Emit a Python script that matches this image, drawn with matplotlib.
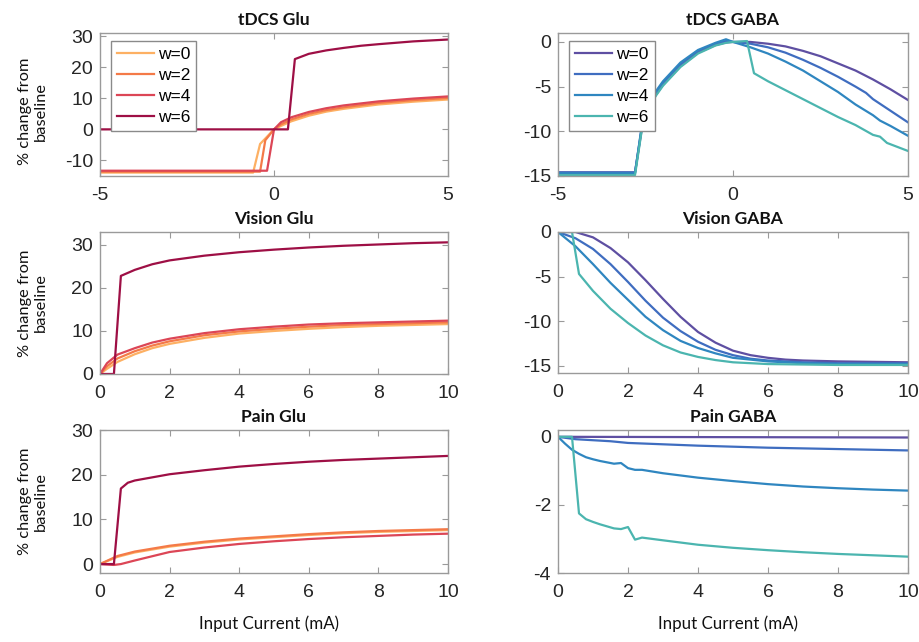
import matplotlib
matplotlib.use("Agg")
import matplotlib.pyplot as plt

# ---------------- data ----------------
labels = ["w=0", "w=2", "w=4", "w=6"]
glu_colors = ["#FDB063", "#F47A48", "#DC4656", "#9E0F45"]
gaba_colors = ["#5E4FA2", "#3F6DC0", "#2F86C0", "#4BB5AF"]

# tDCS Glu
tdcs_glu_x_w0 = [-5, -0.6, -0.4, 0, 0.2, 0.5, 1, 1.5, 2, 3, 4, 5]
tdcs_glu_y_w0 = [-13.9, -13.9, -4.7, 0, 1.1, 2.6, 4.4, 5.7, 6.6, 8.0, 8.9, 9.6]
tdcs_glu_x_w2 = [-5, -0.4, -0.25, 0, 0.2, 0.5, 1, 1.5, 2, 3, 4, 5]
tdcs_glu_y_w2 = [-13.6, -13.6, -3.5, 0, 1.6, 3.2, 5.0, 6.2, 7.1, 8.5, 9.4, 10.1]
tdcs_glu_x_w4 = [-5, -0.2, 0, 0.2, 0.5, 1, 1.5, 2, 3, 4, 5]
tdcs_glu_y_w4 = [-13.3, -13.3, 0, 2.3, 3.9, 5.6, 6.8, 7.7, 9.0, 9.9, 10.6]
tdcs_glu_x_w6 = [-5, 0.4, 0.6, 1, 1.5, 2, 2.5, 3, 4, 5]
tdcs_glu_y_w6 = [0, 0, 22.6, 24.3, 25.4, 26.2, 26.9, 27.4, 28.3, 28.9]

# tDCS GABA
tdcs_gaba_x_left = [-5, -2.8, -2.6, -2.4, -2.2, -2, -1.5, -1, -0.5, -0.2, 0]
tdcs_gaba_y_left_w0 = [-14.6, -14.6, -9.6, -7.2, -5.9, -4.8, -2.7, -1.2, -0.35, -0.05, 0]
tdcs_gaba_y_left_w2 = [-14.6, -14.6, -9.4, -7.0, -5.7, -4.6, -2.5, -1.0, -0.2, 0.1, 0]
tdcs_gaba_y_left_w4 = [-14.7, -14.7, -9.2, -6.8, -5.5, -4.4, -2.3, -0.9, -0.1, 0.3, 0]
tdcs_gaba_y_left_w6 = [-14.9, -14.9, -9.7, -7.3, -6.0, -4.9, -2.8, -1.3, -0.4, -0.1, 0]
tdcs_gaba_x_right_w0 = [0.5, 1, 1.5, 2, 2.5, 3, 3.5, 4, 4.5, 5]
tdcs_gaba_y_right_w0 = [0.0, -0.2, -0.5, -1.0, -1.6, -2.4, -3.2, -4.2, -5.3, -6.5]
tdcs_gaba_x_right_w2 = [0.5, 1, 1.5, 2, 2.5, 3, 3.5, 3.8, 4, 4.5, 5]
tdcs_gaba_y_right_w2 = [-0.2, -0.6, -1.2, -2.0, -2.9, -3.9, -5.0, -5.7, -6.4, -7.7, -9.0]
tdcs_gaba_x_right_w4 = [0.5, 1, 1.5, 2, 2.5, 3, 3.5, 4, 4.2, 4.5, 5]
tdcs_gaba_y_right_w4 = [-0.6, -1.3, -2.2, -3.2, -4.4, -5.6, -7.0, -8.2, -8.8, -9.4, -10.5]
tdcs_gaba_x_right_w6 = [0.4, 0.6, 1, 1.5, 2, 2.5, 3, 3.5, 4, 4.2, 4.4, 5]
tdcs_gaba_y_right_w6 = [0.1, -3.5, -4.4, -5.4, -6.4, -7.4, -8.4, -9.3, -10.4, -10.6, -11.3, -12.2]

# Vision Glu
vis_glu_x = [0, 0.2, 0.5, 1, 1.5, 2, 3, 4, 5, 6, 7, 8, 9, 10]
vis_glu_y_w0 = [0, 1.2, 2.8, 4.6, 6.0, 7.0, 8.4, 9.4, 10.0, 10.5, 10.9, 11.2, 11.4, 11.6]
vis_glu_y_w2 = [0, 1.8, 3.6, 5.3, 6.6, 7.6, 9.0, 9.9, 10.5, 11.0, 11.4, 11.6, 11.8, 12.0]
vis_glu_y_w4 = [0, 2.5, 4.5, 6.0, 7.3, 8.2, 9.5, 10.4, 11.0, 11.5, 11.8, 12.0, 12.2, 12.4]
vis_glu_x_w6 = [0, 0.4, 0.6, 1, 1.5, 2, 3, 4, 5, 6, 7, 8, 9, 10]
vis_glu_y_w6 = [0, 0, 22.8, 24.2, 25.5, 26.4, 27.5, 28.3, 28.9, 29.4, 29.8, 30.1, 30.4, 30.6]

# Vision GABA
vis_gaba_x = [0, 0.5, 1, 1.5, 2, 2.5, 3, 3.5, 4, 4.5, 5, 5.5, 6, 6.5, 7, 8, 10]
vis_gaba_y_w0 = [0, 0, -0.6, -1.8, -3.4, -5.4, -7.5, -9.5, -11.2, -12.4, -13.3, -13.8, -14.1, -14.3, -14.4, -14.5, -14.6]
vis_gaba_y_w2 = [0, -0.7, -1.9, -3.6, -5.6, -7.7, -9.6, -11.1, -12.3, -13.2, -13.8, -14.2, -14.4, -14.5, -14.6, -14.7, -14.7]
vis_gaba_y_w4 = [0, -1.6, -3.6, -5.7, -7.6, -9.5, -11.0, -12.2, -13.0, -13.6, -14.1, -14.3, -14.5, -14.6, -14.7, -14.8, -14.8]
vis_gaba_x_w6 = [0, 0.4, 0.6, 1, 1.5, 2, 2.5, 3, 3.5, 4, 4.5, 5, 6, 8, 10]
vis_gaba_y_w6 = [0, 0, -4.7, -6.6, -8.6, -10.2, -11.6, -12.7, -13.5, -14.0, -14.35, -14.6, -14.8, -14.9, -14.9]

# Pain Glu
pain_glu_x = [0, 0.5, 1, 2, 3, 4, 5, 6, 7, 8, 9, 10]
pain_glu_y_w0 = [0, 1.6, 2.6, 3.9, 4.8, 5.5, 6.0, 6.5, 6.9, 7.2, 7.4, 7.6]
pain_glu_y_w2 = [0, 1.8, 2.8, 4.1, 5.0, 5.7, 6.2, 6.7, 7.1, 7.4, 7.6, 7.8]
pain_glu_x_w4 = [0, 0.4, 0.6, 1, 2, 3, 4, 5, 6, 7, 8, 9, 10]
pain_glu_y_w4 = [0, -0.2, 0, 0.8, 2.7, 3.7, 4.5, 5.1, 5.6, 6.0, 6.3, 6.6, 6.8]
pain_glu_x_w6 = [0, 0.4, 0.6, 0.8, 1, 2, 3, 4, 5, 6, 7, 8, 9, 10]
pain_glu_y_w6 = [0, 0, 16.9, 18.2, 18.7, 20.1, 21.0, 21.8, 22.4, 22.9, 23.3, 23.6, 23.9, 24.2]

# Pain GABA
pain_gaba_x_w0 = [0, 10]
pain_gaba_y_w0 = [0, -0.02]
pain_gaba_x_w2 = [0, 0.5, 1, 1.5, 2, 3, 4, 5, 6, 7, 8, 9, 10]
pain_gaba_y_w2 = [0, -0.07, -0.1, -0.13, -0.18, -0.22, -0.26, -0.29, -0.32, -0.34, -0.36, -0.38, -0.4]
pain_gaba_x_w4 = [0, 0.2, 0.4, 0.6, 0.8, 1, 1.2, 1.4, 1.6, 1.8, 2.0, 2.2, 2.4, 3, 4, 5, 6, 7, 8, 9, 10]
pain_gaba_y_w4 = [0, -0.2, -0.38, -0.5, -0.6, -0.66, -0.71, -0.75, -0.79, -0.77, -0.92, -0.97, -0.97,
                  -1.07, -1.2, -1.3, -1.39, -1.46, -1.51, -1.55, -1.58]
pain_gaba_x_w6 = [0, 0.4, 0.6, 0.8, 1.0, 1.2, 1.4, 1.6, 1.8, 2.0, 2.2, 2.4, 3, 4, 5, 6, 7, 8, 9, 10]
pain_gaba_y_w6 = [0, 0, -2.25, -2.42, -2.5, -2.57, -2.63, -2.69, -2.71, -2.65, -3.02, -2.96,
                  -3.04, -3.17, -3.26, -3.33, -3.39, -3.44, -3.48, -3.52]

# ---------------- figure ----------------
W, H = 920, 642
fig = plt.figure(figsize=(W / 100, H / 100), dpi=100)

TICK_FONT = "Liberation Sans"
TEXT_FONT = "Lato"
TICK_SIZE = 14
LW = 1.6
SPINE_C = "#9a9a9a"


def make_ax(left, top, right, bottom):
    ax = fig.add_axes([left / W, 1 - bottom / H, (right - left) / W, (bottom - top) / H])
    for s in ax.spines.values():
        s.set_color(SPINE_C)
        s.set_linewidth(1.0)
    ax.tick_params(direction="in", length=4, width=0.8, color=SPINE_C,
                   top=True, right=True, labelsize=TICK_SIZE, labelcolor="#262626")
    ax.tick_params(axis="x", pad=8)
    ax.tick_params(axis="y", pad=5)
    return ax


def finish(ax, title, xticks, yticks, xlim, ylim):
    ax.set_xlim(*xlim)
    ax.set_ylim(*ylim)
    ax.set_xticks(xticks)
    ax.set_yticks(yticks)
    ax.set_xticklabels([f"{t:g}" for t in xticks], fontfamily=TICK_FONT, fontsize=TICK_SIZE, color="#262626")
    ax.set_yticklabels([f"{t:g}" for t in yticks], fontfamily=TICK_FONT, fontsize=TICK_SIZE, color="#262626")
    ax.set_title(title, fontfamily=TEXT_FONT, fontweight="bold", fontsize=12.5, pad=6, color="#111111")


def add_legend(ax, handles):
    leg = ax.legend(handles, labels, loc="upper left", bbox_to_anchor=(0.032, 0.944),
                    borderaxespad=0, frameon=True, fancybox=False, framealpha=1,
                    edgecolor="#8a8a8a", prop={"family": TICK_FONT, "size": 12.5},
                    handlelength=2.1, handletextpad=0.25, labelspacing=0.33, borderpad=0.35)
    leg.get_frame().set_linewidth(1.0)


def set_ylab(ax, ycenter_frac):
    ax.set_ylabel("% change from\nbaseline", fontfamily=TEXT_FONT, fontsize=11.8, color="#111111",
                  linespacing=1.15)
    ax.yaxis.set_label_coords(-0.15, ycenter_frac)


def set_xlab(ax):
    ax.set_xlabel("Input Current (mA)", fontfamily=TEXT_FONT, fontsize=12.2, color="#111111")
    ax.xaxis.set_label_coords(0.485, -0.30)


# tDCS Glu
ax1 = make_ax(100, 33, 448, 176)
h = []
h += ax1.plot(tdcs_glu_x_w0, tdcs_glu_y_w0, color=glu_colors[0], lw=LW)
h += ax1.plot(tdcs_glu_x_w2, tdcs_glu_y_w2, color=glu_colors[1], lw=LW)
h += ax1.plot(tdcs_glu_x_w4, tdcs_glu_y_w4, color=glu_colors[2], lw=LW)
h += ax1.plot(tdcs_glu_x_w6, tdcs_glu_y_w6, color=glu_colors[3], lw=LW)
finish(ax1, "tDCS Glu", [-5, 0, 5], [-10, 0, 10, 20, 30], (-5, 5), (-15, 31))
add_legend(ax1, h)
set_ylab(ax1, 0.45)

# tDCS GABA
ax2 = make_ax(558, 33, 908, 176)
h = []
for xl, yl, xr, yr, c in [
    (tdcs_gaba_x_left, tdcs_gaba_y_left_w0, tdcs_gaba_x_right_w0, tdcs_gaba_y_right_w0, gaba_colors[0]),
    (tdcs_gaba_x_left, tdcs_gaba_y_left_w2, tdcs_gaba_x_right_w2, tdcs_gaba_y_right_w2, gaba_colors[1]),
    (tdcs_gaba_x_left, tdcs_gaba_y_left_w4, tdcs_gaba_x_right_w4, tdcs_gaba_y_right_w4, gaba_colors[2]),
    (tdcs_gaba_x_left, tdcs_gaba_y_left_w6, tdcs_gaba_x_right_w6, tdcs_gaba_y_right_w6, gaba_colors[3]),
]:
    h += ax2.plot(list(xl) + list(xr), list(yl) + list(yr), color=c, lw=LW)
finish(ax2, "tDCS GABA", [-5, 0, 5], [-15, -10, -5, 0], (-5, 5), (-15, 1))
add_legend(ax2, h)

# Vision Glu
ax3 = make_ax(100, 232, 448, 374)
ax3.plot(vis_glu_x, vis_glu_y_w0, color=glu_colors[0], lw=LW)
ax3.plot(vis_glu_x, vis_glu_y_w2, color=glu_colors[1], lw=LW)
ax3.plot(vis_glu_x, vis_glu_y_w4, color=glu_colors[2], lw=LW)
ax3.plot(vis_glu_x_w6, vis_glu_y_w6, color=glu_colors[3], lw=LW)
finish(ax3, "Vision Glu", [0, 2, 4, 6, 8, 10], [0, 10, 20, 30], (0, 10), (0, 33))
set_ylab(ax3, 0.5)

# Vision GABA
ax4 = make_ax(558, 232, 908, 373)
ax4.plot(vis_gaba_x, vis_gaba_y_w0, color=gaba_colors[0], lw=LW)
ax4.plot(vis_gaba_x, vis_gaba_y_w2, color=gaba_colors[1], lw=LW)
ax4.plot(vis_gaba_x, vis_gaba_y_w4, color=gaba_colors[2], lw=LW)
ax4.plot(vis_gaba_x_w6, vis_gaba_y_w6, color=gaba_colors[3], lw=LW)
finish(ax4, "Vision GABA", [0, 2, 4, 6, 8, 10], [-15, -10, -5, 0], (0, 10), (-15.8, 0))

# Pain Glu
ax5 = make_ax(100, 430, 448, 573)
ax5.plot(pain_glu_x, pain_glu_y_w0, color=glu_colors[0], lw=LW)
ax5.plot(pain_glu_x, pain_glu_y_w2, color=glu_colors[1], lw=LW)
ax5.plot(pain_glu_x_w4, pain_glu_y_w4, color=glu_colors[2], lw=LW)
ax5.plot(pain_glu_x_w6, pain_glu_y_w6, color=glu_colors[3], lw=LW)
finish(ax5, "Pain Glu", [0, 2, 4, 6, 8, 10], [0, 10, 20, 30], (0, 10), (-2, 30))
set_ylab(ax5, 0.5)
set_xlab(ax5)

# Pain GABA
ax6 = make_ax(558, 430, 908, 573)
ax6.plot(pain_gaba_x_w0, pain_gaba_y_w0, color=gaba_colors[0], lw=LW)
ax6.plot(pain_gaba_x_w2, pain_gaba_y_w2, color=gaba_colors[1], lw=LW)
ax6.plot(pain_gaba_x_w4, pain_gaba_y_w4, color=gaba_colors[2], lw=LW)
ax6.plot(pain_gaba_x_w6, pain_gaba_y_w6, color=gaba_colors[3], lw=LW)
finish(ax6, "Pain GABA", [0, 2, 4, 6, 8, 10], [-4, -2, 0], (0, 10), (-4, 0.2))
set_xlab(ax6)

fig.savefig("out.png", dpi=100, facecolor="white")
